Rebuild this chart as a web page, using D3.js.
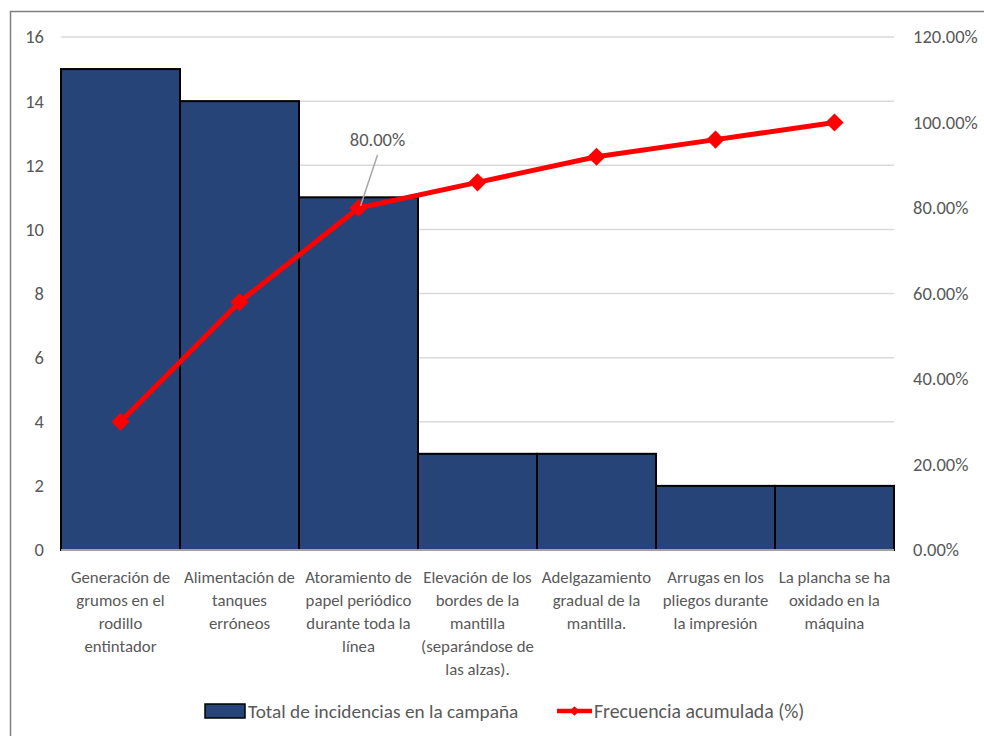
<!DOCTYPE html>
<html>
<head>
<meta charset="utf-8">
<script src="https://cdn.jsdelivr.net/npm/d3@7"></script>
<style>
  html, body { margin: 0; padding: 0; background: #fff; }
  svg { display: block; font-family: Carlito, Calibri, Lato, "Open Sans", sans-serif; }
</style>
</head>
<body>
<svg id="chart" width="984" height="736"></svg>
<script>
// Pareto data: incidents per cause and cumulative share
const categories = [
  "Generación de\ngrumos en el\nrodillo\nentintador",
  "Alimentación de\ntanques\nerróneos",
  "Atoramiento de\npapel periódico\ndurante toda la\nlínea",
  "Elevación de los\nbordes de la\nmantilla\n(separándose de\nlas alzas).",
  "Adelgazamiento\ngradual de la\nmantilla.",
  "Arrugas en los\npliegos durante\nla impresión",
  "La plancha se ha\noxidado en la\nmáquina"
];
const incidents = [15, 14, 11, 3, 3, 2, 2];
const cumulative = [30, 58, 80, 86, 92, 96, 100];
const leftTicks = [0, 2, 4, 6, 8, 10, 12, 14, 16];
const rightTicks = [0, 20, 40, 60, 80, 100, 120];
const seriesNames = ["Total de incidencias en la campaña", "Frecuencia acumulada (%)"];
const labelledIndex = 2;

const svg = d3.select("#chart");
const plot = { left: 61, right: 894, top: 37, bottom: 550 };
const textColor = "#595959";
const barColor = "#264478";
const lineColor = "#ff0000";
const fontFam = "Carlito, Calibri, Lato, sans-serif";

// outer chart frame
svg.append("rect")
  .attr("x", 10.5).attr("y", 11.5)
  .attr("width", 1000).attr("height", 1000)
  .attr("fill", "none").attr("stroke", "#7f7f7f").attr("stroke-width", 1.5);

const x = d3.scaleBand().domain(d3.range(categories.length))
  .range([plot.left, plot.right]).paddingInner(0).paddingOuter(0);
const yL = d3.scaleLinear().domain([0, 16]).range([plot.bottom, plot.top]);
const yR = d3.scaleLinear().domain([0, 120]).range([plot.bottom, plot.top]);

// horizontal gridlines
svg.append("g").selectAll("line").data(leftTicks.filter(d => d > 0)).join("line")
  .attr("x1", plot.left).attr("x2", plot.right)
  .attr("y1", d => yL(d)).attr("y2", d => yL(d))
  .attr("stroke", "#d9d9d9").attr("stroke-width", 1.5);

// left axis
const axL = svg.append("g").attr("transform", `translate(${plot.left},0)`)
  .call(d3.axisLeft(yL).tickValues(leftTicks).tickSize(0).tickPadding(17));
axL.select(".domain").remove();
axL.selectAll("text").attr("fill", textColor).attr("font-size", 18.5)
  .attr("font-family", fontFam);

// right axis
const axR = svg.append("g").attr("transform", `translate(${plot.right},0)`)
  .call(d3.axisRight(yR).tickValues(rightTicks).tickSize(0).tickPadding(19)
    .tickFormat(d => d.toFixed(2) + "%"));
axR.select(".domain").remove();
axR.selectAll("text").attr("fill", textColor).attr("font-size", 18.5)
  .attr("font-family", fontFam);

// bars
svg.append("g").selectAll("rect").data(incidents).join("rect")
  .attr("x", (d, i) => x(i)).attr("width", x.bandwidth())
  .attr("y", d => yL(d)).attr("height", d => yL(0) - yL(d))
  .attr("fill", barColor).attr("stroke", "#000").attr("stroke-width", 2);

// baseline
svg.append("line")
  .attr("x1", plot.left).attr("x2", plot.right)
  .attr("y1", yL(0)).attr("y2", yL(0))
  .attr("stroke", "#d9d9d9").attr("stroke-width", 1.5);

// category labels
const catG = svg.append("g");
categories.forEach((c, i) => {
  const t = catG.append("text")
    .attr("x", x(i) + x.bandwidth() / 2).attr("y", 583)
    .attr("text-anchor", "middle").attr("fill", textColor).attr("font-size", 16.8);
  c.split("\n").forEach((ln, k) => {
    t.append("tspan").attr("x", x(i) + x.bandwidth() / 2)
      .attr("dy", k === 0 ? 0 : 23).text(ln);
  });
});

// cumulative line
const cx = i => x(i) + x.bandwidth() / 2;
svg.append("path").datum(cumulative)
  .attr("d", d3.line().x((d, i) => cx(i)).y(d => yR(d)))
  .attr("fill", "none").attr("stroke", lineColor).attr("stroke-width", 5)
  .attr("stroke-linejoin", "round");

const diamond = d3.symbol().type(d3.symbolDiamond2).size(210);
svg.append("g").selectAll("path").data(cumulative).join("path")
  .attr("transform", (d, i) => `translate(${cx(i)},${yR(d)})`)
  .attr("d", diamond).attr("fill", lineColor);

// data label with leader line
const lx = cx(labelledIndex), ly = yR(cumulative[labelledIndex]);
svg.append("line")
  .attr("x1", lx + 2).attr("y1", ly - 2)
  .attr("x2", lx + 19).attr("y2", ly - 53)
  .attr("stroke", "#a6a6a6").attr("stroke-width", 1.5);
svg.append("text")
  .attr("x", lx + 19).attr("y", ly - 62)
  .attr("text-anchor", "middle").attr("fill", textColor).attr("font-size", 18.5)
  .text(cumulative[labelledIndex].toFixed(2) + "%");

// legend
const lg = svg.append("g");
lg.append("rect").attr("x", 205).attr("y", 704).attr("width", 40).attr("height", 14)
  .attr("fill", barColor).attr("stroke", "#000").attr("stroke-width", 1.5);
lg.append("text").attr("x", 248).attr("y", 718).attr("fill", textColor)
  .attr("font-size", 19.3).text(seriesNames[0]);
lg.append("line").attr("x1", 557).attr("x2", 592).attr("y1", 711).attr("y2", 711)
  .attr("stroke", lineColor).attr("stroke-width", 4.5);
lg.append("path").attr("transform", "translate(574.5,711)")
  .attr("d", d3.symbol().type(d3.symbolDiamond2).size(60)).attr("fill", lineColor);
lg.append("text").attr("x", 594).attr("y", 718).attr("fill", textColor)
  .attr("font-size", 19.8).text(seriesNames[1]);
</script>
</body>
</html>
